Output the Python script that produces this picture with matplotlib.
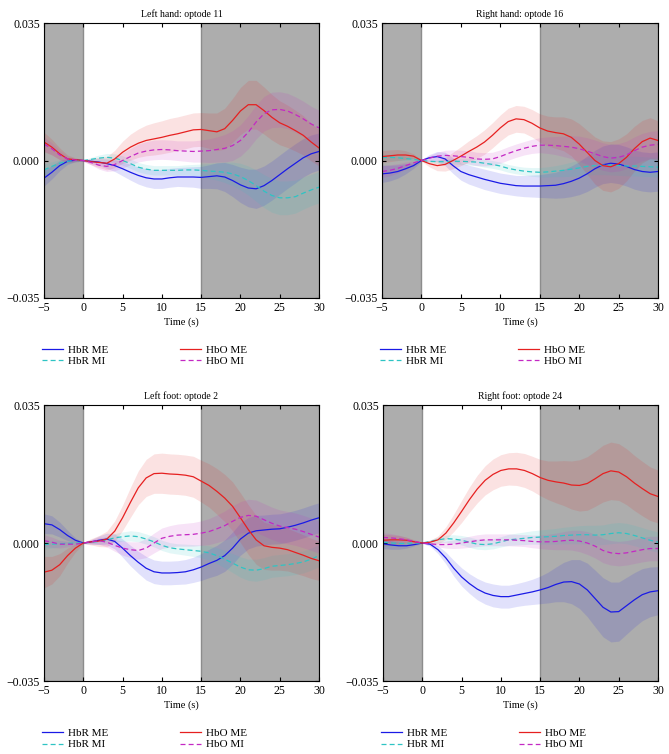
import numpy as np
import matplotlib
matplotlib.use("Agg")
import matplotlib.pyplot as plt

plt.rcParams['font.family'] = ['Liberation Serif', 'DejaVu Serif']
plt.rcParams['axes.unicode_minus'] = True

# time axis (s), one reading per second
time = np.arange(-5, 31)

titles = ["Left hand: optode 11", "Right hand: optode 16",
          "Left foot: optode 2", "Right foot: optode 24"]
labels = ["HbR ME", "HbR MI", "HbO ME", "HbO MI"]

# values, in units of 1e-3
# --- left hand: optode 11
lh_hbr_me = [-4.5, -3.0, -1.3, -0.2, 0.1, 0.0, -0.2, -0.4, -0.8, -1.3, -2.1, -3.0, -3.8, -4.4, -4.7, -4.7,
             -4.4, -4.2, -4.2, -4.2, -4.3, -4.1, -3.9, -4.2, -5.1, -6.2, -7.0, -7.2, -6.4, -5.1, -3.6,
             -2.1, -0.7, 0.7, 1.7, 2.3]
lh_hbr_mi = [-2.4, -1.5, -0.7, -0.2, 0.0, 0.0, 0.3, 0.6, 0.8, 0.6, 0.0, -0.8, -1.7, -2.2, -2.5, -2.5,
             -2.5, -2.5, -2.4, -2.4, -2.5, -2.7, -2.8, -3.0, -3.4, -4.1, -5.1, -6.4, -7.8, -8.9, -9.5,
             -9.5, -9.2, -8.3, -7.5, -6.8]
lh_hbo_me = [4.7, 3.4, 1.7, 0.4, 0.2, 0.0, -0.3, -0.5, -0.7, 0.4, 2.1, 3.4, 4.4, 5.1, 5.5, 5.9,
             6.4, 6.8, 7.3, 7.8, 7.9, 7.6, 7.3, 8.1, 10.2, 12.6, 14.2, 14.2, 12.7, 11.0, 9.6,
             8.7, 7.6, 6.4, 4.7, 3.2]
lh_hbo_mi = [4.2, 3.0, 1.4, 0.4, 0.1, 0.0, -0.5, -1.2, -1.5, -1.0, 0.0, 1.0, 1.9, 2.4, 2.7, 2.8,
             2.7, 2.5, 2.4, 2.3, 2.4, 2.5, 2.8, 3.1, 3.8, 5.1, 7.2, 9.8, 11.9, 12.9, 13.0,
             12.6, 11.7, 10.6, 9.3, 8.3]
lh_hbr_me_sd = [2.0, 1.7, 1.3, 0.8, 0.4, 0.2, 0.6, 0.9, 1.2, 1.5, 1.8, 2.0, 2.2, 2.3, 2.4, 2.4,
                2.4, 2.4, 2.5, 2.6, 2.8, 3.0, 3.3, 3.7, 4.1, 4.5, 4.8, 5.0, 5.0, 5.0, 5.0,
                5.0, 5.0, 4.9, 4.8, 4.7]
lh_hbr_mi_sd = [1.5, 1.2, 0.9, 0.6, 0.3, 0.1, 0.5, 0.8, 1.0, 1.1, 1.2, 1.2, 1.2, 1.2, 1.2, 1.2,
                1.2, 1.2, 1.3, 1.4, 1.6, 1.9, 2.2, 2.6, 3.0, 3.4, 3.7, 4.0, 4.2, 4.3, 4.3,
                4.3, 4.2, 4.1, 4.0, 4.0]
lh_hbo_me_sd = [2.5, 2.0, 1.5, 1.0, 0.5, 0.2, 0.8, 1.3, 1.7, 2.2, 2.8, 3.3, 3.6, 3.9, 4.1, 4.2,
                4.3, 4.3, 4.3, 4.3, 4.3, 4.5, 4.8, 5.2, 5.6, 6.0, 6.2, 6.2, 6.0, 5.8, 5.6,
                5.4, 5.2, 5.0, 4.8, 4.6]
lh_hbo_mi_sd = [1.8, 1.5, 1.1, 0.7, 0.4, 0.2, 0.6, 1.0, 1.3, 1.6, 1.9, 2.1, 2.3, 2.4, 2.5, 2.5,
                2.5, 2.5, 2.6, 2.7, 2.8, 3.0, 3.2, 3.5, 3.8, 4.0, 4.2, 4.3, 4.4, 4.5, 4.5,
                4.5, 4.5, 4.5, 4.5, 4.5]

# --- right hand: optode 16
rh_hbr_me = [-3.4, -3.2, -2.8, -2.1, -1.3, 0.0, 0.7, 1.0, 0.4, -1.3, -2.8, -3.6, -4.2, -4.8, -5.3, -5.8,
             -6.1, -6.4, -6.5, -6.5, -6.5, -6.4, -6.3, -5.9, -5.3, -4.5, -3.4, -2.1, -1.1, -0.7, -0.9,
             -1.5, -2.3, -2.8, -3.0, -2.8]
rh_hbr_mi = [0.8, 0.8, 0.7, 0.5, 0.3, 0.0, -0.2, -0.3, -0.3, -0.2, -0.2, -0.3, -0.4, -0.7, -1.0, -1.4,
             -2.0, -2.4, -2.7, -2.9, -3.0, -2.9, -2.7, -2.5, -2.2, -1.9, -1.5, -1.3, -1.2, -1.2, -1.3,
             -1.4, -1.4, -1.5, -1.6, -1.7]
rh_hbo_me = [1.0, 1.2, 1.4, 1.4, 1.1, 0.0, -0.8, -1.3, -1.0, 0.0, 1.1, 2.3, 3.4, 4.7, 6.4, 8.3,
             9.9, 10.6, 10.4, 9.5, 8.3, 7.5, 7.1, 6.8, 5.9, 4.2, 2.1, 0.0, -1.3, -1.6, -0.8,
             0.8, 3.0, 4.8, 5.7, 5.1]
rh_hbo_mi = [-2.8, -2.5, -2.0, -1.3, -0.6, 0.0, 0.6, 1.1, 1.3, 1.2, 1.0, 0.8, 0.4, 0.3, 0.4, 1.0,
             1.8, 2.5, 3.1, 3.6, 3.9, 3.9, 3.8, 3.6, 3.4, 3.0, 2.4, 1.7, 1.0, 0.6, 0.8,
             1.4, 2.5, 3.4, 3.9, 4.1]
rh_hbr_me_sd = [2.2, 2.0, 1.7, 1.3, 0.7, 0.2, 0.8, 1.3, 1.7, 2.0, 2.2, 2.4, 2.5, 2.6, 2.6, 2.6,
                2.6, 2.6, 2.7, 2.8, 2.9, 3.1, 3.3, 3.6, 3.9, 4.2, 4.5, 4.7, 4.8, 4.9, 5.0,
                5.0, 5.0, 5.0, 5.0, 5.0]
rh_hbr_mi_sd = [0.9, 0.8, 0.7, 0.5, 0.3, 0.1, 0.3, 0.5, 0.6, 0.7, 0.8, 0.9, 0.9, 1.0, 1.0, 1.0,
                1.0, 1.0, 1.0, 1.1, 1.2, 1.3, 1.4, 1.6, 1.8, 2.0, 2.2, 2.3, 2.4, 2.5, 2.5,
                2.5, 2.5, 2.5, 2.5, 2.5]
rh_hbo_me_sd = [1.5, 1.5, 1.4, 1.1, 0.6, 0.2, 0.8, 1.3, 1.7, 2.1, 2.4, 2.7, 2.9, 3.1, 3.2, 3.3,
                3.4, 3.4, 3.4, 3.5, 3.6, 3.8, 4.0, 4.3, 4.7, 5.2, 5.6, 6.0, 6.3, 6.4, 6.3,
                6.0, 5.7, 5.4, 5.2, 5.0]
rh_hbo_mi_sd = [1.5, 1.4, 1.2, 0.9, 0.5, 0.2, 0.6, 1.0, 1.3, 1.5, 1.6, 1.7, 1.7, 1.7, 1.7, 1.7,
                1.7, 1.7, 1.7, 1.8, 1.9, 2.1, 2.3, 2.6, 2.9, 3.2, 3.4, 3.5, 3.5, 3.5, 3.5,
                3.5, 3.5, 3.5, 3.5, 3.5]

# --- left foot: optode 2
lf_hbr_me = [4.9, 4.6, 3.4, 1.9, 0.7, 0.0, 0.3, 0.7, 1.0, 0.4, -1.3, -3.2, -4.9, -6.4, -7.3, -7.6,
             -7.6, -7.5, -7.3, -6.8, -6.1, -5.2, -4.4, -3.2, -1.3, 1.0, 2.5, 3.1, 3.3, 3.5, 3.6,
             4.0, 4.5, 5.1, 5.8, 6.4]
lf_hbr_mi = [-0.4, -0.3, -0.2, -0.1, 0.0, 0.0, 0.2, 0.4, 0.8, 1.3, 1.6, 1.8, 1.6, 1.0, 0.3, -0.6,
             -1.2, -1.5, -1.7, -1.9, -2.1, -2.5, -3.2, -4.1, -5.1, -6.1, -6.8, -6.9, -6.5, -5.9, -5.7,
             -5.5, -5.2, -4.8, -4.1, -3.2]
lf_hbo_me = [-7.4, -6.9, -5.5, -3.2, -1.3, 0.0, 0.3, 0.5, 1.0, 3.0, 6.4, 10.3, 14.0, 16.5, 17.6, 17.7,
             17.5, 17.4, 17.2, 16.8, 15.7, 14.6, 13.1, 11.4, 9.3, 6.4, 3.4, 0.8, -0.7, -1.1, -1.3,
             -1.7, -2.4, -3.1, -3.9, -4.5]
lf_hbo_mi = [0.6, 0.2, -0.3, -0.3, -0.3, 0.0, 0.3, 0.6, 0.2, -0.6, -1.3, -1.7, -1.9, -1.3, 0.0, 1.2,
             1.7, 2.0, 2.1, 2.2, 2.5, 2.9, 3.6, 4.4, 5.5, 6.5, 7.0, 6.8, 5.9, 5.0, 4.3,
             3.9, 3.5, 2.9, 2.2, 1.5]
lf_hbr_me_sd = [2.5, 2.3, 1.9, 1.3, 0.6, 0.1, 0.6, 1.1, 1.5, 1.9, 2.3, 2.6, 2.8, 3.0, 3.0, 3.0,
                3.0, 3.0, 3.1, 3.2, 3.4, 3.6, 3.8, 4.0, 4.1, 4.1, 4.0, 3.9, 3.8, 3.8, 3.8,
                3.8, 3.8, 3.8, 3.8, 3.8]
lf_hbr_mi_sd = [1.2, 1.0, 0.8, 0.5, 0.3, 0.1, 0.4, 0.7, 0.9, 1.1, 1.2, 1.3, 1.3, 1.3, 1.3, 1.3,
                1.3, 1.3, 1.4, 1.5, 1.6, 1.8, 2.0, 2.2, 2.4, 2.6, 2.7, 2.8, 2.8, 2.8, 2.8,
                2.8, 2.8, 2.8, 2.8, 2.8]
lf_hbo_me_sd = [4.0, 3.5, 2.8, 1.9, 1.0, 0.2, 0.8, 1.4, 2.0, 2.6, 3.2, 3.8, 4.3, 4.7, 5.0, 5.1,
                5.1, 5.1, 5.1, 5.2, 5.3, 5.5, 5.8, 6.0, 6.2, 6.3, 6.3, 6.2, 6.0, 5.8, 5.6,
                5.4, 5.3, 5.2, 5.1, 5.0]
lf_hbo_mi_sd = [1.5, 1.3, 1.0, 0.7, 0.4, 0.1, 0.5, 0.9, 1.2, 1.5, 1.8, 2.0, 2.2, 2.4, 2.5, 2.6,
                2.7, 2.8, 2.9, 3.0, 3.1, 3.3, 3.5, 3.7, 3.9, 4.0, 4.1, 4.1, 4.1, 4.1, 4.1,
                4.1, 4.1, 4.1, 4.1, 4.1]

# --- right foot: optode 24
rf_hbr_me = [-0.2, -0.5, -0.7, -0.7, -0.4, 0.0, -0.3, -1.7, -3.8, -6.4, -8.6, -10.3, -11.7, -12.7, -13.3, -13.6,
             -13.6, -13.2, -12.8, -12.4, -11.9, -11.3, -10.5, -9.9, -9.8, -10.4, -11.9, -14.1, -16.3, -17.5, -17.4,
             -15.9, -14.4, -13.1, -12.4, -12.1]
rf_hbr_mi = [0.2, 0.0, -0.1, -0.1, 0.0, 0.0, 0.4, 0.8, 1.1, 1.0, 0.7, 0.2, -0.3, -0.4, -0.2, 0.3,
             0.8, 1.0, 1.2, 1.4, 1.5, 1.6, 1.7, 1.9, 2.0, 2.1, 2.1, 2.0, 2.1, 2.4, 2.6,
             2.4, 1.9, 1.3, 0.7, 0.2]
rf_hbo_me = [0.7, 0.8, 0.8, 0.7, 0.3, 0.0, 0.2, 0.8, 2.5, 5.1, 8.0, 11.0, 13.7, 15.9, 17.4, 18.4,
             18.8, 18.8, 18.4, 17.6, 16.6, 15.9, 15.5, 15.2, 14.7, 14.6, 15.1, 16.3, 17.6, 18.3, 18.0,
             16.8, 15.2, 13.8, 12.5, 11.8]
rf_hbo_mi = [1.4, 1.3, 1.1, 0.8, 0.4, 0.0, -0.2, -0.4, -0.4, -0.3, 0.0, 0.3, 0.6, 0.8, 0.8, 0.8,
             0.8, 0.7, 0.6, 0.4, 0.3, 0.3, 0.4, 0.6, 0.7, 0.5, 0.0, -0.8, -1.9, -2.5, -2.7,
             -2.5, -2.1, -1.7, -1.4, -1.4]
rf_hbr_me_sd = [1.2, 1.1, 0.9, 0.6, 0.3, 0.1, 0.5, 1.0, 1.5, 2.0, 2.3, 2.5, 2.7, 2.8, 2.9, 2.9,
                2.9, 2.9, 3.0, 3.2, 3.5, 3.9, 4.4, 5.0, 5.6, 6.2, 6.8, 7.2, 7.5, 7.6, 7.5,
                7.2, 6.9, 6.6, 6.3, 6.1]
rf_hbr_mi_sd = [1.0, 0.9, 0.7, 0.5, 0.3, 0.1, 0.4, 0.7, 0.9, 1.1, 1.2, 1.3, 1.3, 1.3, 1.3, 1.3,
                1.4, 1.5, 1.6, 1.7, 1.8, 1.9, 2.0, 2.1, 2.2, 2.3, 2.4, 2.5, 2.5, 2.6, 2.6,
                2.6, 2.6, 2.6, 2.6, 2.6]
rf_hbo_me_sd = [1.5, 1.3, 1.1, 0.8, 0.5, 0.1, 0.5, 1.0, 1.6, 2.2, 2.8, 3.2, 3.5, 3.7, 3.9, 4.0,
                4.1, 4.2, 4.3, 4.4, 4.6, 4.9, 5.3, 5.7, 6.1, 6.5, 6.8, 7.0, 7.2, 7.3, 7.2,
                7.1, 7.0, 6.9, 6.8, 6.7]
rf_hbo_mi_sd = [1.2, 1.1, 0.9, 0.6, 0.3, 0.1, 0.3, 0.6, 0.9, 1.1, 1.3, 1.4, 1.5, 1.5, 1.5, 1.5,
                1.5, 1.5, 1.5, 1.6, 1.7, 1.9, 2.1, 2.3, 2.5, 2.7, 2.9, 3.0, 3.1, 3.1, 3.1,
                3.1, 3.1, 3.1, 3.1, 3.1]

panels = [
    ([lh_hbr_me, lh_hbr_mi, lh_hbo_me, lh_hbo_mi], [lh_hbr_me_sd, lh_hbr_mi_sd, lh_hbo_me_sd, lh_hbo_mi_sd]),
    ([rh_hbr_me, rh_hbr_mi, rh_hbo_me, rh_hbo_mi], [rh_hbr_me_sd, rh_hbr_mi_sd, rh_hbo_me_sd, rh_hbo_mi_sd]),
    ([lf_hbr_me, lf_hbr_mi, lf_hbo_me, lf_hbo_mi], [lf_hbr_me_sd, lf_hbr_mi_sd, lf_hbo_me_sd, lf_hbo_mi_sd]),
    ([rf_hbr_me, rf_hbr_mi, rf_hbo_me, rf_hbo_mi], [rf_hbr_me_sd, rf_hbr_mi_sd, rf_hbo_me_sd, rf_hbo_mi_sd]),
]

colors = ['#1a1ae6', '#2ec4c4', '#e62020', '#c428c4']
styles = ['-', '--', '-', '--']

W, H = 669, 754
fig = plt.figure(figsize=(W / 100, H / 100), dpi=100)

# axes boxes in pixels: left, top, right, bottom
boxes = [(44, 23, 319, 298), (382, 23, 658, 298),
         (44, 405, 319, 681), (383, 405, 658, 681)]

for k, (box, title) in enumerate(zip(boxes, titles)):
    l, t, r, b = box
    ax = fig.add_axes([l / W, 1 - b / H, (r - l) / W, (b - t) / H])
    means, sds = panels[k]

    ax.axvspan(-5, 0, facecolor='#adadad', edgecolor='#8c8c8c', lw=1.0, zorder=0)
    ax.axvspan(15, 30, facecolor='#adadad', edgecolor='#8c8c8c', lw=1.0, zorder=0)

    for m, s, c, ls, lab in zip(means, sds, colors, styles, labels):
        m = np.array(m) * 1e-3
        s = np.array(s) * 1e-3
        ax.fill_between(time, m - s, m + s, color=c, alpha=0.13, lw=0, zorder=1)
        ax.plot(time, m, color=c, ls=ls, lw=0.9, label=lab, zorder=2,
                dashes=(4, 2.5) if ls == '--' else (None, None))

    ax.set_xlim(-5, 30)
    ax.set_ylim(-0.035, 0.035)
    ax.set_xticks(np.arange(-5, 31, 5))
    ax.set_yticks([-0.035, 0.0, 0.035])
    ax.set_yticklabels(['\u22120.035', '0.000', '0.035'])
    ax.tick_params(direction='in', top=True, right=True, labelsize=8.5,
                   length=3, width=0.8, pad=3)
    for sp in ax.spines.values():
        sp.set_linewidth(0.8)
    ax.set_title(title, fontsize=7, pad=4)
    ax.set_xlabel("Time (s)", fontsize=7.5, labelpad=2)

    handles, labs = ax.get_legend_handles_labels()
    ax.legend(handles, labs, loc='upper left', bbox_to_anchor=(-0.045, -0.135),
              ncol=2, frameon=False, fontsize=8, handlelength=1.9,
              handletextpad=0.5, columnspacing=6.4, labelspacing=0.15)

fig.savefig("out.png", dpi=100)
